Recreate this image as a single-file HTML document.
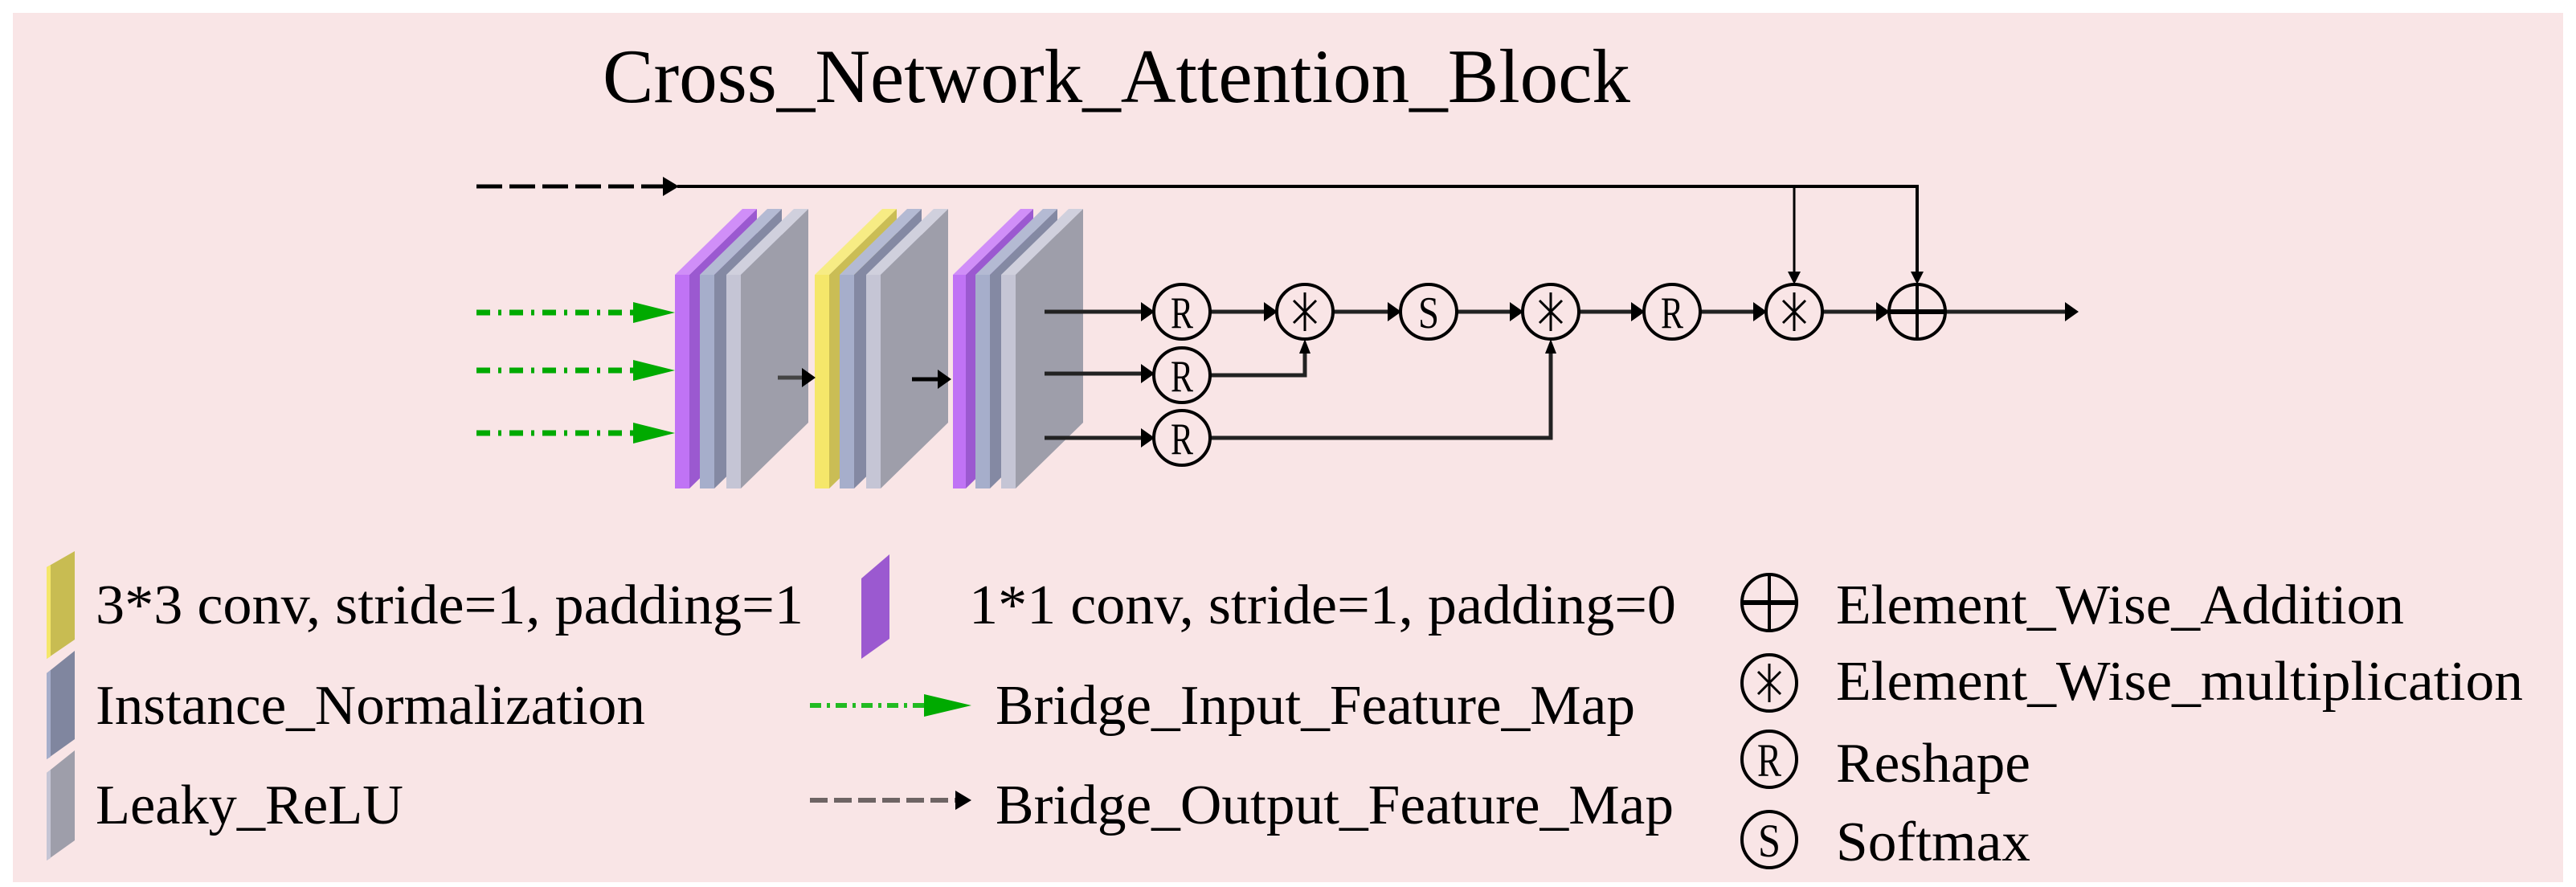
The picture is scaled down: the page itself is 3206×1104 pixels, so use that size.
<!DOCTYPE html>
<html><head><meta charset="utf-8"><style>
html,body{margin:0;padding:0;background:#fff;}
svg{display:block;}
svg text{font-family:"Times New Roman","Liberation Serif",Times,"DejaVu Serif",serif;fill:#000;}
</style></head><body>
<svg width="3206" height="1104" viewBox="0 0 3206 1104" xmlns="http://www.w3.org/2000/svg">
<rect x="16" y="16" width="3174" height="1082" fill="#f9e5e6"/>
<text x="750" y="127" font-size="95" textLength="1279" lengthAdjust="spacingAndGlyphs">Cross_Network_Attention_Block</text>

<line x1="593" y1="232" x2="828" y2="232" stroke="#000" stroke-width="5" stroke-dasharray="32,9"/>
<polygon points="825,220 845,232 825,244" fill="#000"/>
<polyline points="843,232 2386,232 2386,340" fill="none" stroke="#000" stroke-width="4"/>
<line x1="2233" y1="232" x2="2233" y2="340" stroke="#000" stroke-width="3"/>
<polygon points="2225,338 2241,338 2233,354" fill="#000"/>
<polygon points="2378,338 2394,338 2386,354" fill="#000"/>

<g stroke="#00aa00" stroke-width="7" stroke-dasharray="17,10,4,10">
<line x1="593" y1="389" x2="790" y2="389"/>
<line x1="593" y1="461" x2="790" y2="461"/>
<line x1="593" y1="539" x2="790" y2="539"/>
</g>
<g fill="#00aa00">
<polygon points="788,376 840,389 788,402"/>
<polygon points="788,448 840,461 788,474"/>
<polygon points="788,526 840,539 788,552"/>
</g>

<g>
<polygon points="858,342 942,260 942,526 858,608" fill="#9b59d0"/><polygon points="840,342 924,260 942,260 858,342" fill="#d08ef8"/><rect x="840" y="342" width="18" height="266" fill="#c073f5"/>
<polygon points="889,342 973,260 973,526 889,608" fill="#8489a3"/><polygon points="871,342 955,260 973,260 889,342" fill="#b4bad3"/><rect x="871" y="342" width="18" height="266" fill="#a6aecb"/>
<polygon points="922,342 1006,260 1006,526 922,608" fill="#9e9eaa"/><polygon points="904,342 988,260 1006,260 922,342" fill="#d0d0dd"/><rect x="904" y="342" width="18" height="266" fill="#c5c5d5"/>
<polygon points="1032,342 1116,260 1116,526 1032,608" fill="#cabd55"/><polygon points="1014,342 1098,260 1116,260 1032,342" fill="#f7ec84"/><rect x="1014" y="342" width="18" height="266" fill="#f5e76a"/>
<polygon points="1063,342 1147,260 1147,526 1063,608" fill="#8489a3"/><polygon points="1045,342 1129,260 1147,260 1063,342" fill="#b4bad3"/><rect x="1045" y="342" width="18" height="266" fill="#a6aecb"/>
<polygon points="1096,342 1180,260 1180,526 1096,608" fill="#9e9eaa"/><polygon points="1078,342 1162,260 1180,260 1096,342" fill="#d0d0dd"/><rect x="1078" y="342" width="18" height="266" fill="#c5c5d5"/>
<polygon points="1202,342 1286,260 1286,526 1202,608" fill="#9b59d0"/><polygon points="1186,342 1270,260 1286,260 1202,342" fill="#d08ef8"/><rect x="1186" y="342" width="16" height="266" fill="#c073f5"/>
<polygon points="1232,342 1316,260 1316,526 1232,608" fill="#8489a3"/><polygon points="1214,342 1298,260 1316,260 1232,342" fill="#b4bad3"/><rect x="1214" y="342" width="18" height="266" fill="#a6aecb"/>
<polygon points="1264,342 1348,260 1348,526 1264,608" fill="#9e9eaa"/><polygon points="1246,342 1330,260 1348,260 1264,342" fill="#d0d0dd"/><rect x="1246" y="342" width="18" height="266" fill="#c5c5d5"/>
</g>
<line x1="968" y1="470" x2="1004" y2="470" stroke="#444" stroke-width="5"/>
<polygon points="998,458 1015,470 998,482" fill="#000"/>
<line x1="1135" y1="472" x2="1172" y2="472" stroke="#000" stroke-width="5"/>
<polygon points="1167,460 1184,472 1167,484" fill="#000"/>

<g stroke="#222" stroke-width="5" fill="none">
<line x1="1300" y1="388" x2="1424" y2="388"/>
<line x1="1300" y1="465" x2="1424" y2="465"/>
<line x1="1300" y1="545" x2="1424" y2="545"/>
<line x1="1506" y1="388" x2="1577" y2="388"/>
<line x1="1659" y1="388" x2="1731" y2="388"/>
<line x1="1813" y1="388" x2="1883" y2="388"/>
<line x1="1965" y1="388" x2="2034" y2="388"/>
<line x1="2116" y1="388" x2="2186" y2="388"/>
<line x1="2268" y1="388" x2="2339" y2="388"/>
<line x1="2421" y1="388" x2="2574" y2="388"/>
<polyline points="1506,467 1624,467 1624,436"/>
<polyline points="1506,545 1930,545 1930,436"/>
</g>
<g fill="#000">
<polygon points="1420,376 1437,388 1420,400"/>
<polygon points="1420,453 1437,465 1420,477"/>
<polygon points="1420,533 1437,545 1420,557"/>
<polygon points="1573,376 1590,388 1573,400"/>
<polygon points="1727,376 1744,388 1727,400"/>
<polygon points="1879,376 1896,388 1879,400"/>
<polygon points="2030,376 2047,388 2030,400"/>
<polygon points="2182,376 2199,388 2182,400"/>
<polygon points="2335,376 2352,388 2335,400"/>
<polygon points="2570,376 2587,388 2570,400"/>
<polygon points="1617,440 1631,440 1624,422"/>
<polygon points="1923,440 1937,440 1930,422"/>
</g>

<g fill="none" stroke="#000" stroke-width="4">
<ellipse cx="1471" cy="388" rx="35" ry="34"/>
<ellipse cx="1471" cy="467" rx="35" ry="34"/>
<ellipse cx="1471" cy="545" rx="35" ry="34"/>
<ellipse cx="1624" cy="388" rx="35" ry="34"/>
<ellipse cx="1778" cy="388" rx="35" ry="34"/>
<ellipse cx="1930" cy="388" rx="35" ry="34"/>
<ellipse cx="2081" cy="388" rx="35" ry="34"/>
<ellipse cx="2233" cy="388" rx="35" ry="34"/>
<ellipse cx="2386" cy="388" rx="35" ry="34"/>
<line x1="2351" y1="388" x2="2421" y2="388" stroke-width="6"/>
<line x1="2386" y1="354" x2="2386" y2="422"/>
</g>
<g stroke="#000" stroke-width="3">
<g transform="translate(1624,388)"><line x1="0" y1="-24" x2="0" y2="24"/><line x1="-14" y1="-14" x2="14" y2="14"/><line x1="-14" y1="14" x2="14" y2="-14"/></g>
<g transform="translate(1930,388)"><line x1="0" y1="-24" x2="0" y2="24"/><line x1="-14" y1="-14" x2="14" y2="14"/><line x1="-14" y1="14" x2="14" y2="-14"/></g>
<g transform="translate(2233,388)"><line x1="0" y1="-24" x2="0" y2="24"/><line x1="-14" y1="-14" x2="14" y2="14"/><line x1="-14" y1="14" x2="14" y2="-14"/></g>
</g>
<g font-size="56" text-anchor="middle">
<text x="1471" y="408" textLength="28" lengthAdjust="spacingAndGlyphs">R</text>
<text x="1471" y="487" textLength="28" lengthAdjust="spacingAndGlyphs">R</text>
<text x="1471" y="565" textLength="28" lengthAdjust="spacingAndGlyphs">R</text>
<text x="2081" y="408" textLength="28" lengthAdjust="spacingAndGlyphs">R</text>
<text x="1778" y="408" textLength="26" lengthAdjust="spacingAndGlyphs">S</text>
</g>

<polygon points="58,706 93,686 93,796 58,820" fill="#c8bc52"/>
<polygon points="58,706 63,703 63,817 58,820" fill="#f5e76a"/>
<polygon points="58,838 93,810 93,920 58,945" fill="#80869f"/>
<polygon points="58,838 63,834 63,942 58,945" fill="#a6aecb"/>
<polygon points="58,962 93,934 93,1046 58,1071" fill="#9e9eaa"/>
<polygon points="58,962 63,958 63,1068 58,1071" fill="#c5c5d5"/>
<g font-size="70">
<text x="119" y="776" textLength="881" lengthAdjust="spacingAndGlyphs">3*3 conv,  stride=1, padding=1</text>
<text x="119" y="901" textLength="684" lengthAdjust="spacingAndGlyphs">Instance_Normalization</text>
<text x="119" y="1025" textLength="383" lengthAdjust="spacingAndGlyphs">Leaky_ReLU</text>
<text x="1206" y="776" textLength="880" lengthAdjust="spacingAndGlyphs">1*1 conv,  stride=1, padding=0</text>
<text x="1239" y="901" textLength="796" lengthAdjust="spacingAndGlyphs">Bridge_Input_Feature_Map</text>
<text x="1239" y="1025" textLength="844" lengthAdjust="spacingAndGlyphs">Bridge_Output_Feature_Map</text>
<text x="2285" y="776" textLength="707" lengthAdjust="spacingAndGlyphs">Element_Wise_Addition</text>
<text x="2285" y="871" textLength="855" lengthAdjust="spacingAndGlyphs">Element_Wise_multiplication</text>
<text x="2285" y="973" textLength="242" lengthAdjust="spacingAndGlyphs">Reshape</text>
<text x="2285" y="1071" textLength="242" lengthAdjust="spacingAndGlyphs">Softmax</text>
</g>
<polygon points="1072,720 1107,690 1107,795 1072,820" fill="#9b59d0"/>
<line x1="1008" y1="878" x2="1155" y2="878" stroke="#22bb22" stroke-width="6" stroke-dasharray="14,7,4,7"/>
<polygon points="1150,864 1209,878 1150,892" fill="#00aa00"/>
<line x1="1008" y1="996" x2="1192" y2="996" stroke="#6e6464" stroke-width="6" stroke-dasharray="22,8"/>
<polygon points="1189,984 1209,996 1189,1008" fill="#000"/>

<g fill="none" stroke="#000" stroke-width="4">
<ellipse cx="2202" cy="750" rx="34" ry="35"/>
<line x1="2168" y1="750" x2="2236" y2="750" stroke-width="6"/>
<line x1="2202" y1="715" x2="2202" y2="785"/>
<ellipse cx="2202" cy="850" rx="34" ry="35"/>
<ellipse cx="2202" cy="945" rx="34" ry="35"/>
<ellipse cx="2202" cy="1045" rx="34" ry="35"/>
</g>
<g stroke="#000" stroke-width="3" transform="translate(2202,850)"><line x1="0" y1="-24" x2="0" y2="24"/><line x1="-14" y1="-14" x2="14" y2="14"/><line x1="-14" y1="14" x2="14" y2="-14"/></g>
<g font-size="58" text-anchor="middle">
<text x="2202" y="966" textLength="30" lengthAdjust="spacingAndGlyphs">R</text>
<text x="2202" y="1066" textLength="28" lengthAdjust="spacingAndGlyphs">S</text>
</g>
</svg>
</body></html>
